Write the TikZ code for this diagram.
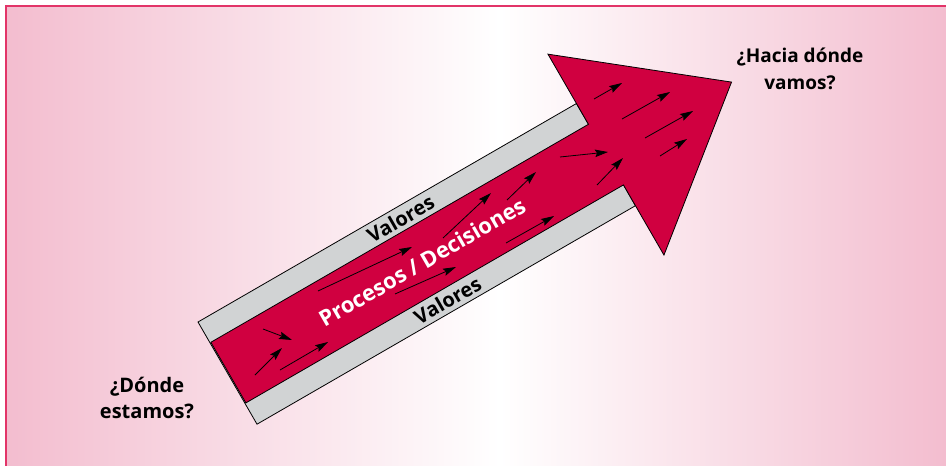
\documentclass[tikz,border=0pt]{standalone}
\usepackage{fontspec}
\setmainfont{Open Sans}
\usetikzlibrary{arrows.meta}
\definecolor{bgpink}{RGB}{243,189,207}
\definecolor{framepink}{RGB}{226,52,104}
\definecolor{arrowred}{RGB}{208,0,64}
\definecolor{bandgray}{RGB}{209,211,212}
\begin{document}
\begin{tikzpicture}[x=1pt,y=-1pt,
  smallarrow/.style={-{Stealth[length=13pt,width=7.5pt,inset=2pt]}, line width=0.8pt, black},
  outline/.style={draw=black, line width=0.8pt, line join=miter},
  lbl/.style={font=\bfseries\fontsize{20}{26}\selectfont, align=center, text=black, inner sep=0pt},
  bandlbl/.style={font=\bfseries\fontsize{20}{22}\selectfont, text=black, inner sep=0pt, transform shape},
  mainlbl/.style={font=\bfseries\fontsize{22}{24}\selectfont, text=white, inner sep=0pt, transform shape}]
\useasboundingbox (0,0) rectangle (946,466);
\shade[left color=bgpink, right color=white] (6,6) rectangle (500,466);
\shade[left color=white, right color=bgpink] (499.5,6) rectangle (946,466);
\draw[framepink, line width=2.5pt, line join=miter] (6,470) -- (6,6) -- (950,6);

\begin{scope}[shift={(198,322)}, rotate=30]
  \draw[outline, fill=bandgray] (0,0) rectangle (437,118);
  \draw[outline, fill=arrowred] (1,24) -- (437,24) -- (437,-57) -- (582,59)
    -- (437,175) -- (437,94) -- (1,94) -- cycle;
  \node[bandlbl] (valtop) at (227,12) {Valores};
  \node[bandlbl] (valbot) at (227,106) {Valores};
  \node[mainlbl] (proc) at (224,60) {Procesos / Decisiones};
\end{scope}

\draw[smallarrow] (263,329) -- (292,340);
\draw[smallarrow] (255,375) -- (282,348);
\draw[smallarrow] (280,370) -- (328,342);
\draw[smallarrow] (318,291) -- (412,247);
\draw[smallarrow] (395,294) -- (456,267);
\draw[smallarrow] (443,238) -- (491,193);
\draw[smallarrow] (507,200) -- (536,172);
\draw[smallarrow] (506,243) -- (554,216);
\draw[smallarrow] (560,157) -- (608,152);
\draw[smallarrow] (597,185) -- (623,158);
\draw[smallarrow] (594,99) -- (622,83);
\draw[smallarrow] (622,119) -- (670,92);
\draw[smallarrow] (645,138) -- (693,111);
\draw[smallarrow] (660,156) -- (687,139);

\node[lbl] (here) at (147,398) {¿Dónde\\estamos?};
\node[lbl, font=\bfseries\fontsize{19}{27}\selectfont] (there) at (800,69) {¿Hacia dónde\\vamos?};
\end{tikzpicture}
\end{document}
